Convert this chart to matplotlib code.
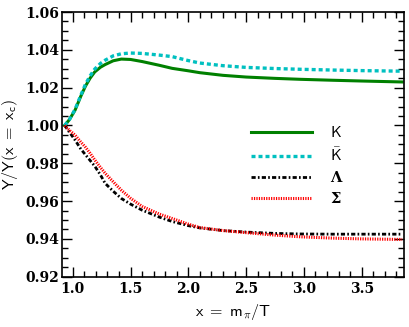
import numpy as np
import matplotlib
matplotlib.use('Agg')
import matplotlib.pyplot as plt
from matplotlib.ticker import MultipleLocator, FormatStrFormatter

plt.rcParams['mathtext.fontset'] = 'cm'

# valori
x = [0.93, 0.97, 1.02, 1.07, 1.11, 1.15, 1.19, 1.24, 1.28, 1.35, 1.42, 1.5,
     1.6, 1.75, 1.86, 2.0, 2.1, 2.3, 2.5, 2.75, 2.97, 3.25, 3.5, 3.85]
y_K = [1.000, 1.003, 1.0081, 1.0155, 1.0208, 1.025, 1.0283, 1.0308, 1.0322,
       1.0342, 1.0351, 1.0349, 1.0338, 1.0318, 1.0302, 1.0289, 1.0279, 1.0265,
       1.0256, 1.0249, 1.0244, 1.0239, 1.0235, 1.0230]
y_Kbar = [1.000, 1.003, 1.0085, 1.016, 1.0218, 1.0262, 1.0298, 1.0328, 1.0345,
          1.0368, 1.0379, 1.0383, 1.0381, 1.0372, 1.0364, 1.0343, 1.0330, 1.0316,
          1.0307, 1.0301, 1.0297, 1.0293, 1.0290, 1.0287]
y_Lam = [1.000, 0.9965, 0.9923, 0.9875, 0.9845, 0.9815, 0.9785, 0.9738, 0.9694,
         0.9652, 0.9614, 0.9584, 0.9552, 0.9515, 0.9492, 0.9470, 0.9458, 0.9444,
         0.9436, 0.9429, 0.9426, 0.9425, 0.9425, 0.9425]
y_Sig = [1.000, 0.9975, 0.9949, 0.9912, 0.9885, 0.9853, 0.9818, 0.9778, 0.9747,
         0.9702, 0.9658, 0.9615, 0.9572, 0.9531, 0.9508, 0.9478, 0.9460, 0.9444,
         0.9433, 0.9420, 0.9411, 0.9404, 0.9400, 0.9397]

fig = plt.figure(figsize=(4.09, 3.27), dpi=100)
ax = fig.add_axes([0.1516, 0.1538, 0.8362, 0.8095])

ax.plot(x, y_K, '-', color='green', lw=2.2, label=r'$\mathsf{K}$')
ax.plot(x, y_Kbar, color='#00c0c0', lw=2.4, linestyle=(0, (1.2, 0.9)),
        label=r'$\bar{\mathsf{K}}$')
ax.plot(x, y_Lam, color='black', lw=2.0, linestyle=(0, (1.5, 0.8, 0.6, 0.8)),
        label='Λ')
ax.plot(x, y_Sig, color='red', lw=2.2, linestyle=(0, (0.4, 0.4)),
        label='Σ')

ax.set_xlim(0.907, 3.866)
ax.set_ylim(0.92, 1.06)
ax.xaxis.set_major_locator(MultipleLocator(0.5))
ax.xaxis.set_minor_locator(MultipleLocator(0.1))
ax.yaxis.set_major_locator(MultipleLocator(0.02))
ax.yaxis.set_minor_locator(MultipleLocator(0.005))
ax.xaxis.set_major_formatter(FormatStrFormatter('%.1f'))
ax.yaxis.set_major_formatter(FormatStrFormatter('%.2f'))
ax.tick_params(which='both', direction='in', top=True, right=True, labelsize=10)
ax.tick_params(which='major', length=7, width=1)
ax.tick_params(which='minor', length=4, width=1)
ax.tick_params(axis='y', pad=2)
ax.tick_params(axis='x', pad=4)
for lab in ax.get_xticklabels() + ax.get_yticklabels():
    lab.set_fontfamily('DejaVu Serif')
    lab.set_fontweight('bold')
for s in ax.spines.values():
    s.set_linewidth(1.2)

ax.set_xlabel(r'$\mathsf{x\ =\ m_\pi/T}$', fontsize=11.5, labelpad=4)
ax.set_ylabel(r'$\mathsf{Y/Y(x\ =\ x_c)}$', fontsize=11.5)
ax.yaxis.set_label_coords(-0.124, 0.5)

leg = ax.legend(loc='upper left', bbox_to_anchor=(251 / 409, 1 - 125 / 327),
                bbox_transform=fig.transFigure, frameon=False, fontsize=11,
                handlelength=4.0, handletextpad=1.2, labelspacing=0.45,
                borderpad=0, borderaxespad=0)
for t in leg.get_texts()[2:]:
    t.set_fontfamily('DejaVu Serif')
    t.set_fontweight('bold')
    t.set_fontsize(10.5)

fig.savefig('out.png', dpi=100)
